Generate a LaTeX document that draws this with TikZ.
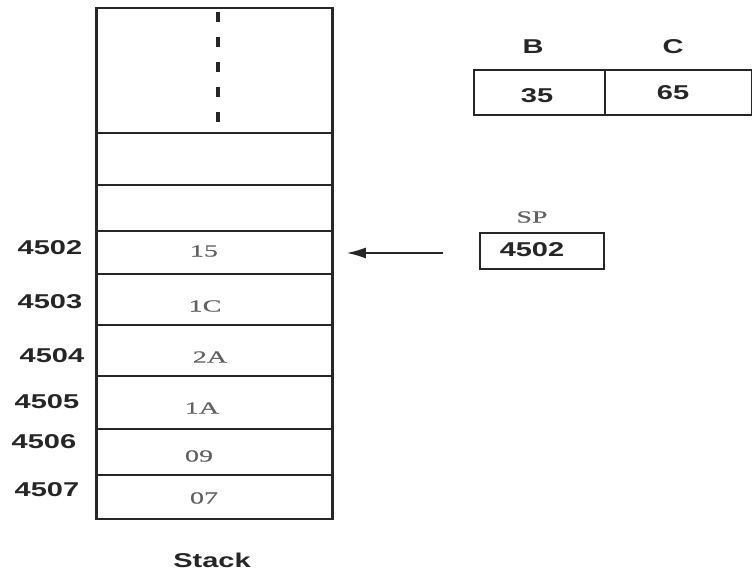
\documentclass[tikz,border=0pt]{standalone}
\usepackage{fontspec}
\usetikzlibrary{arrows.meta}
\newfontfamily\labfont[FakeStretch=1.45]{Liberation Sans}
\newfontfamily\valfont[FakeStretch=1.65,FakeBold=0.6]{Liberation Serif}
\begin{document}
\begin{tikzpicture}[x=1pt,y=-1pt,
  cellbox/.style={draw=black!85,line width=1.8pt,minimum width=235pt,inner sep=0pt,anchor=north west},
  regbox/.style={draw=black!85,line width=2pt,inner sep=0pt,anchor=north west},
  addr/.style={font=\labfont\bfseries\fontsize{20}{20}\selectfont,text=black!85,inner sep=0pt},
  val/.style={font=\valfont\fontsize{17}{17}\selectfont,text=black!62,inner sep=0pt},
  reglab/.style={font=\labfont\bfseries\fontsize{20}{20}\selectfont,text=black!85,inner sep=0pt}]
\useasboundingbox (0,0) rectangle (752,573);
% stack cells
\node[cellbox,minimum height=125pt] (c0) at (96,7) {};
\node[cellbox,minimum height=52pt] (c1) at (96,132) {};
\node[cellbox,minimum height=46pt] (c2) at (96,184) {};
\node[cellbox,minimum height=43pt] (c3) at (96,230) {};
\node[cellbox,minimum height=51pt] (c4) at (96,273) {};
\node[cellbox,minimum height=51pt] (c5) at (96,324) {};
\node[cellbox,minimum height=53pt] (c6) at (96,375) {};
\node[cellbox,minimum height=46pt] (c7) at (96,428) {};
\node[cellbox,minimum height=44pt] (c8) at (96,474) {};
\draw[black!85,line width=2.6pt] (c0.north west) -- (c8.south west) (c0.north east) -- (c8.south east);
\draw[black!85,line width=3.2pt,dash pattern=on 10pt off 15pt] (218,12) -- (218,124);
% values
\node[val] (v3) at (204,251) {15};
\node[val] (v4) at (205,306) {1C};
\node[val] (v5) at (210,357) {2A};
\node[val] (v6) at (202,408) {1A};
\node[val] (v7) at (199,456) {09};
\node[val] (v8) at (204,498) {07};
% addresses
\node[addr] (a3) at (50,248) {4502};
\node[addr] (a4) at (50,302) {4503};
\node[addr] (a5) at (52,356) {4504};
\node[addr] (a6) at (47,402) {4505};
\node[addr] (a7) at (44,442) {4506};
\node[addr] (a8) at (47,490) {4507};
\node[reglab] (stk) at (212,560) {Stack};
% B C registers
\node[regbox,minimum width=131pt,minimum height=45pt] (rb) at (473,69) {};
\node[regbox,minimum width=147pt,minimum height=45pt] (rc) at (604,69) {};
\node[reglab] (lb) at (533,47) {B};
\node[reglab] (lc) at (673,47) {C};
\node[reglab] (vb) at (537,96) {35};
\node[reglab] (vc) at (673,93) {65};
% SP
\node[regbox,minimum width=124pt,minimum height=36pt] (sp) at (479,232) {};
\node[val] (splab) at (532,217) {SP};
\node[reglab] (spv) at (532,250) {4502};
\coordinate (tail) at ([xshift=-36pt,yshift=-2pt]sp.west);
\coordinate (head) at ([xshift=14pt]tail -| c3.east);
\draw[black!85,line width=1.6pt,-{Latex[length=19pt,width=11pt]}] (tail) -- (head);
\end{tikzpicture}
\end{document}
